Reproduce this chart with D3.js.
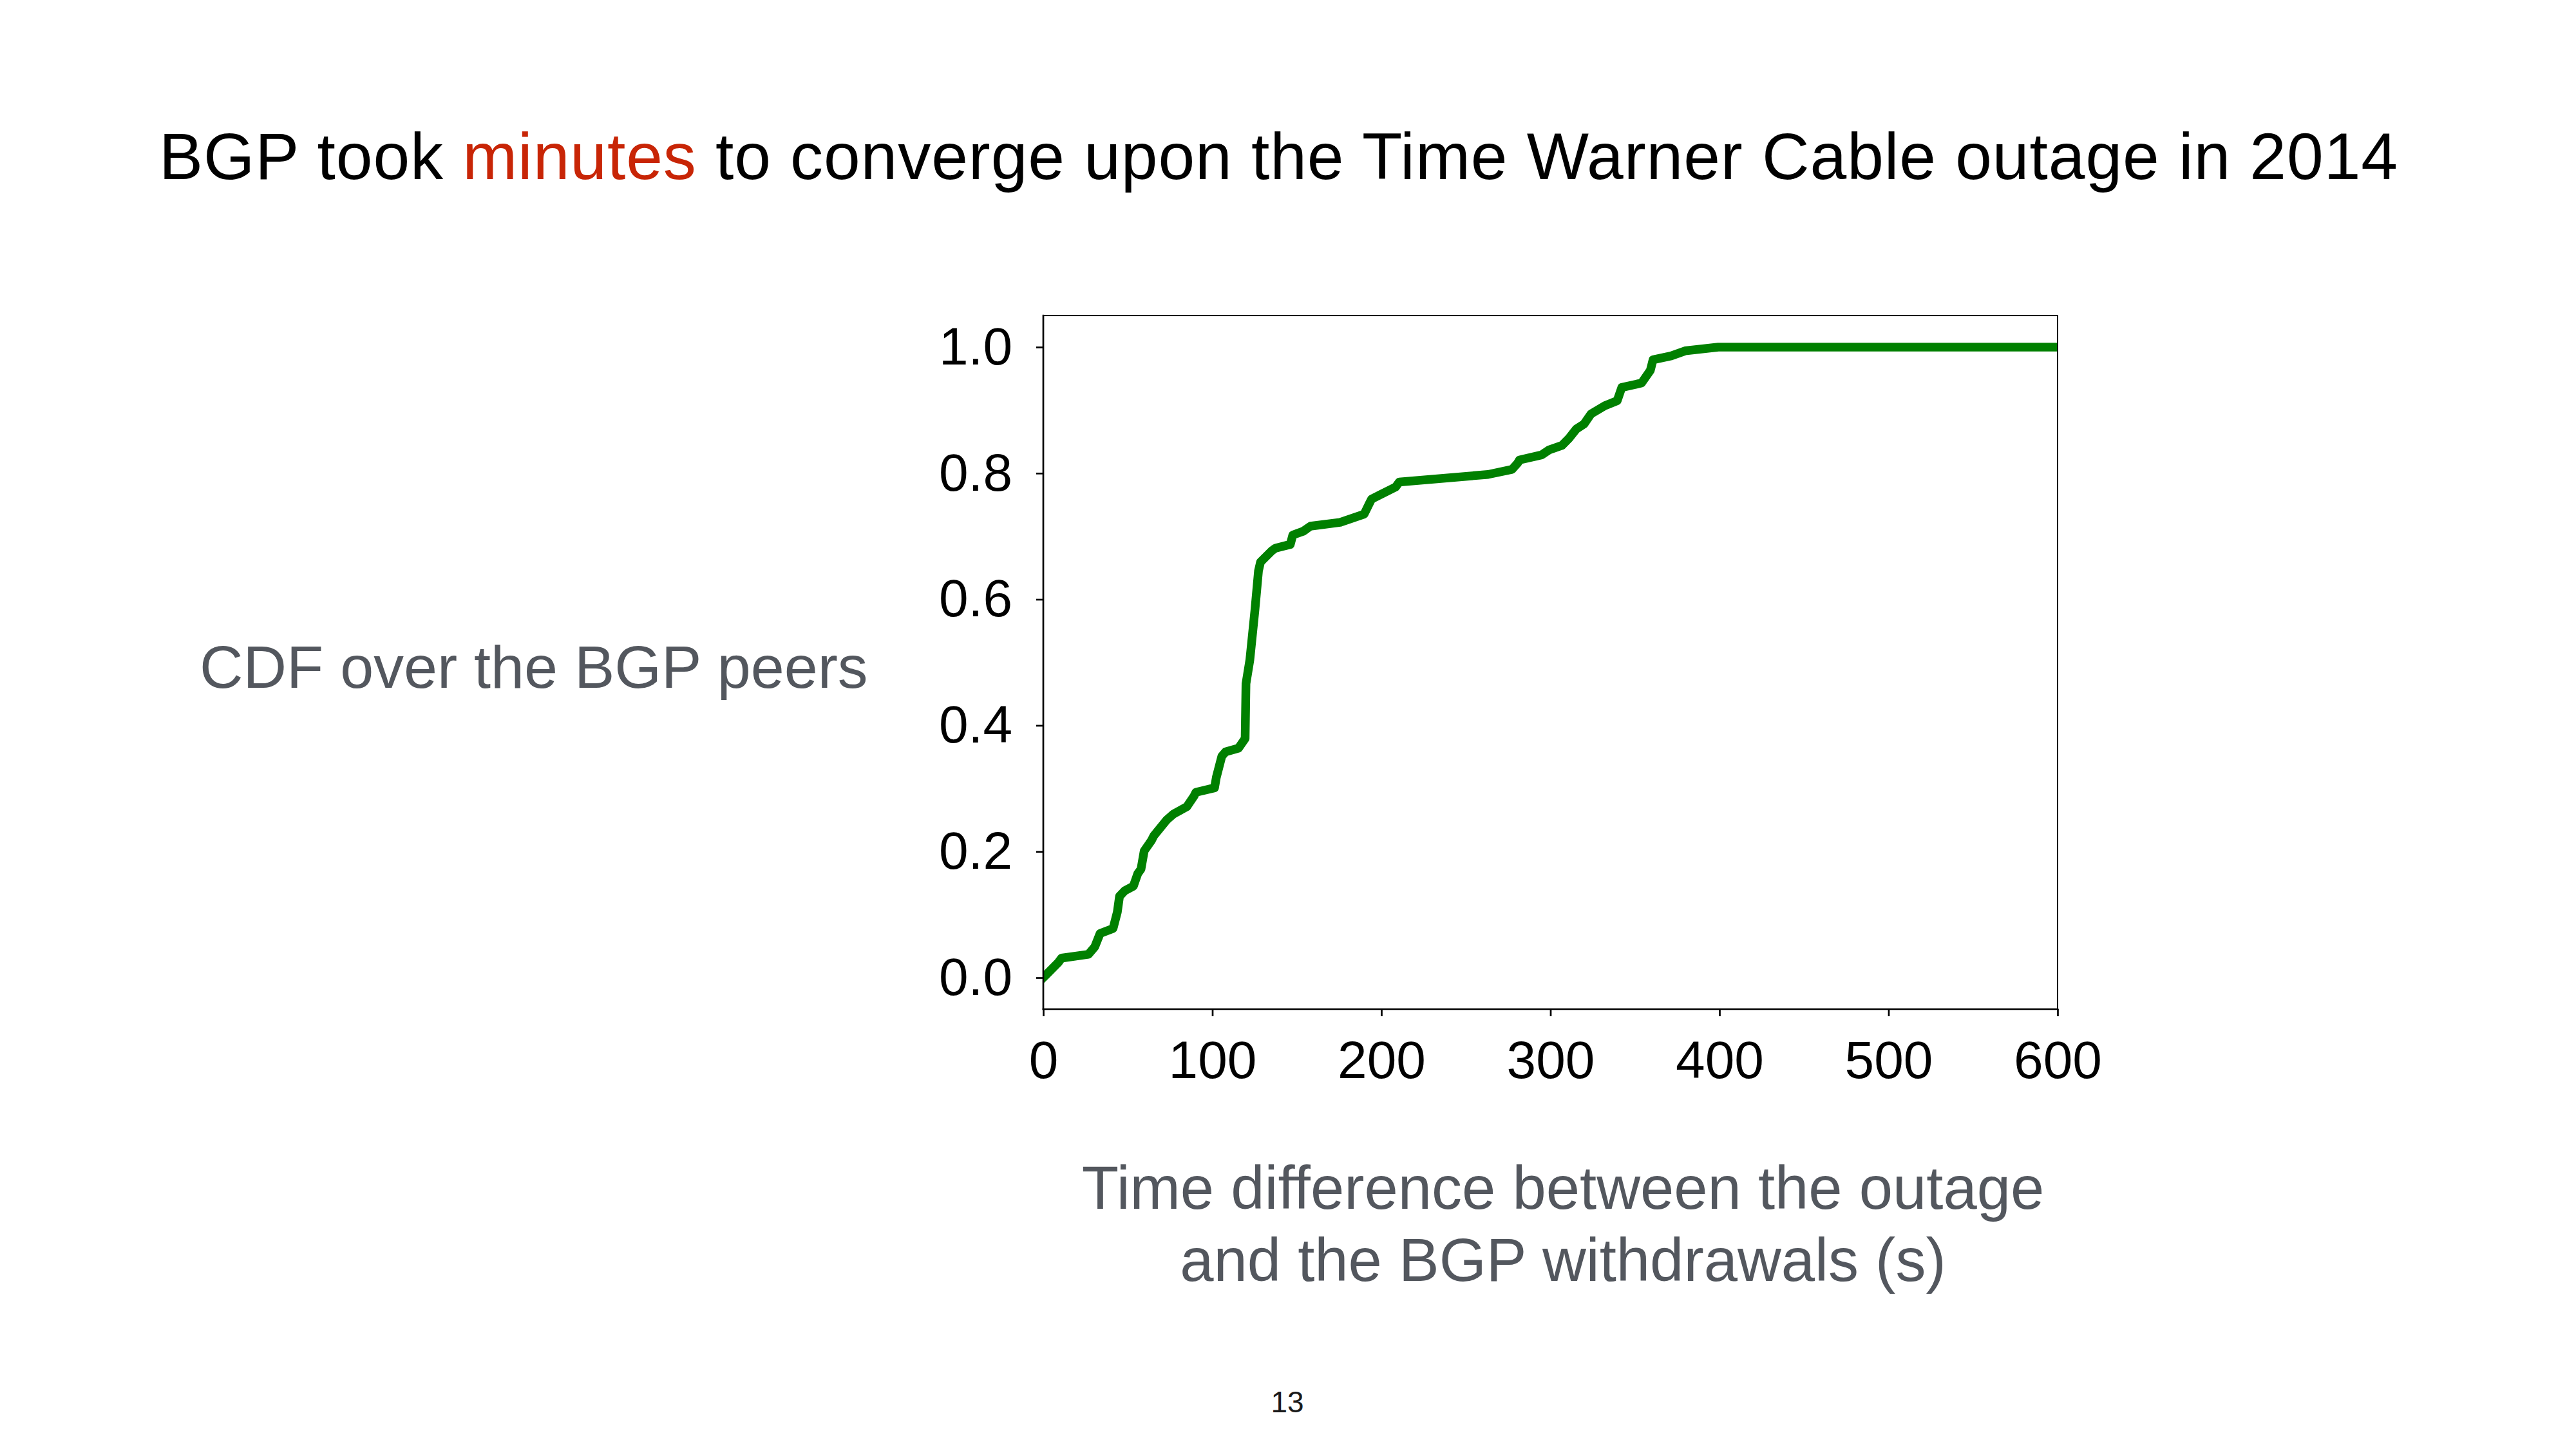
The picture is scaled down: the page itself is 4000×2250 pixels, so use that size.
<!DOCTYPE html>
<html>
<head>
<meta charset="utf-8">
<script src="https://cdn.jsdelivr.net/npm/d3@7"></script>
<style>
  html, body { margin: 0; padding: 0; background: #ffffff; }
  svg { display: block; }
  text { font-family: "Liberation Sans", Arial, Helvetica, sans-serif; }
</style>
</head>
<body>
<script>
// ---- data ----
const timeSeconds = [0, 1.9, 8.9, 10.8, 26.7, 30.5, 33.6, 41.3, 43.8, 45.1, 48.3, 53.3, 55.9, 57.8, 59.7, 64.1, 65.4, 73.0, 76.8, 84.9, 89.2, 90.3, 101.3, 102.4, 105.6, 107.8, 115.5, 119.4, 119.9, 122.2, 125.2, 127.3, 128.5, 135.2, 137.3, 146.1, 147.6, 153.8, 158.1, 175.6, 189.8, 192.7, 194.2, 208.4, 210.6, 263.1, 277.3, 280.6, 281.7, 294.8, 299.2, 306.8, 311.2, 315.3, 319.9, 324.0, 332.2, 339.5, 342.2, 353.9, 359.1, 360.7, 371.4, 379.7, 399.3, 600];
const cdfValues = [0, 0.005, 0.024, 0.031, 0.037, 0.049, 0.070, 0.078, 0.104, 0.129, 0.138, 0.145, 0.165, 0.172, 0.201, 0.218, 0.225, 0.250, 0.259, 0.271, 0.288, 0.294, 0.301, 0.318, 0.351, 0.358, 0.364, 0.379, 0.466, 0.504, 0.583, 0.645, 0.659, 0.677, 0.681, 0.687, 0.702, 0.708, 0.716, 0.722, 0.735, 0.751, 0.759, 0.778, 0.786, 0.798, 0.806, 0.816, 0.821, 0.829, 0.837, 0.844, 0.856, 0.870, 0.878, 0.894, 0.907, 0.915, 0.936, 0.943, 0.963, 0.980, 0.986, 0.994, 1.0, 1.0];
const xTicks = [0, 100, 200, 300, 400, 500, 600];
const yTicks = [0.0, 0.2, 0.4, 0.6, 0.8, 1.0];
const titleParts = ["BGP took ", "minutes", " to converge upon the Time Warner Cable outage in 2014"];
const yTitle = "CDF over the BGP peers";
const xTitleLines = ["Time difference between the outage", "and the BGP withdrawals (s)"];
const pageNumber = "13";

// ---- layout ----
const W = 4000, H = 2250;
const plot = { left: 1620, right: 3195, top: 490, bottom: 1567 };

const svg = d3.select("body").append("svg")
  .attr("width", W).attr("height", H).attr("viewBox", `0 0 ${W} ${H}`);
svg.append("rect").attr("width", W).attr("height", H).attr("fill", "#ffffff");

const x = d3.scaleLinear().domain([0, 600]).range([plot.left, plot.right]);
const y = d3.scaleLinear().domain([-0.05, 1.05]).range([plot.bottom, plot.top]);

// title
const title = svg.append("text")
  .attr("x", 1985).attr("y", 278)
  .attr("text-anchor", "middle")
  .attr("font-size", 102)
  .attr("textLength", 3476)
  .attr("lengthAdjust", "spacing")
  .attr("fill", "#000000");
titleParts.forEach((t, i) => {
  title.append("tspan").text(t).attr("fill", i === 1 ? "#c82506" : "#000000");
});

// clip
svg.append("clipPath").attr("id", "plotclip")
  .append("rect")
  .attr("x", plot.left).attr("y", plot.top)
  .attr("width", plot.right - plot.left).attr("height", plot.bottom - plot.top);

// line
const pts = timeSeconds.map((t, i) => [t, cdfValues[i]]);
const line = d3.line().x(d => x(d[0])).y(d => y(d[1]));
svg.append("path")
  .attr("clip-path", "url(#plotclip)")
  .attr("d", line(pts))
  .attr("fill", "none")
  .attr("stroke", "#008000")
  .attr("stroke-width", 13.5)
  .attr("stroke-linejoin", "round")
  .attr("stroke-linecap", "square");

// frame (spines): left/bottom heavier, top/right lighter
const spines = [
  { x1: plot.left, y1: plot.top, x2: plot.right, y2: plot.top, w: 2 },
  { x1: plot.right, y1: plot.top, x2: plot.right, y2: plot.bottom, w: 2 },
  { x1: plot.left, y1: plot.bottom, x2: plot.right, y2: plot.bottom, w: 2.7 },
  { x1: plot.left, y1: plot.top, x2: plot.left, y2: plot.bottom, w: 2.7 }
];
svg.append("g").selectAll("line").data(spines).join("line")
  .attr("x1", d => d.x1).attr("y1", d => d.y1)
  .attr("x2", d => d.x2).attr("y2", d => d.y2)
  .attr("stroke", "#000000").attr("stroke-width", d => d.w)
  .attr("stroke-linecap", "square");

// axes
const xAxis = d3.axisBottom(x).tickValues(xTicks).tickFormat(d3.format("d"))
  .tickSize(11).tickPadding(38);
const gx = svg.append("g").attr("transform", `translate(0,${plot.bottom})`).call(xAxis);
const yAxis = d3.axisLeft(y).tickValues(yTicks).tickFormat(d3.format(".1f"))
  .tickSize(11).tickPadding(37);
const gy = svg.append("g").attr("transform", `translate(${plot.left},0)`).call(yAxis);

[gx, gy].forEach(g => {
  g.select(".domain").remove();
  g.selectAll(".tick line").attr("stroke", "#000000").attr("stroke-width", 2.7);
  g.selectAll(".tick text")
    .attr("fill", "#000000")
    .attr("font-size", 82)
    .attr("font-family", "'Liberation Sans', Arial, sans-serif");
});

// y title (horizontal, left side)
svg.append("text")
  .attr("x", 310).attr("y", 1068)
  .attr("font-size", 93.5)
  .attr("fill", "#53575e")
  .text(yTitle);

// x title (two lines)
svg.append("g").selectAll("text").data(xTitleLines).join("text")
  .attr("x", 2427)
  .attr("y", (d, i) => 1877 + i * 112)
  .attr("text-anchor", "middle")
  .attr("font-size", 94)
  .attr("fill", "#53575e")
  .text(d => d);

// page number
svg.append("text")
  .attr("x", 1999).attr("y", 2193)
  .attr("text-anchor", "middle")
  .attr("font-size", 46)
  .attr("fill", "#1a1a1a")
  .text(pageNumber);
</script>
</body>
</html>
